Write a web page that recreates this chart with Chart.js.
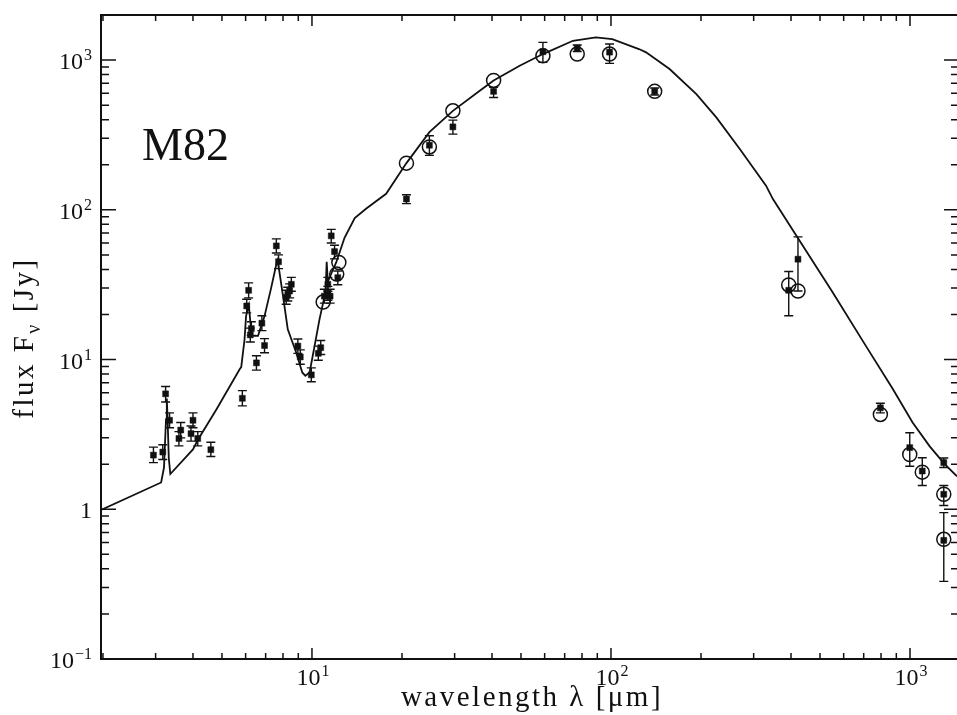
<!DOCTYPE html>
<html>
<head>
<meta charset="utf-8">
<script src="https://cdn.jsdelivr.net/npm/chart.js@4.4.1/dist/chart.umd.min.js"></script>
<style>
  html, body { margin: 0; padding: 0; background: #ffffff; }
  #c { display: block; }
</style>
</head>
<body>
<canvas id="c" width="957" height="715"></canvas>
<script>
// ---------------- DATA ----------------
// Model SED curve (wavelength in micron, flux in Jy)
const modelLambda = [1.97, 3.13, 3.2, 3.25, 3.27, 3.29, 3.32, 3.36, 4.0, 4.15, 4.79, 5.73, 5.8, 5.95, 6.02, 6.15, 6.22, 6.3, 6.6, 6.94, 7.3, 7.6, 7.68, 8.0, 8.3, 8.86, 9.28, 9.5, 9.82, 10.2, 10.6, 10.9, 11.1, 11.2, 11.3, 11.5, 12.05, 12.85, 13.9, 15.2, 17.7, 20.7, 24.7, 29.6, 36.4, 40.5, 49.5, 59.2, 74.6, 89, 101, 124, 131, 157, 193, 225, 270, 330, 348, 417, 551, 716, 874, 1020, 1164, 1306, 1436];
const modelFlux   = [0.99, 1.51, 1.9, 4.0, 5.5, 4.0, 2.2, 1.72, 2.51, 2.9, 4.64, 8.6, 8.9, 13.6, 19.5, 23, 18, 14.4, 14.4, 19.5, 30, 43.3, 46, 26.6, 15.9, 11.1, 8.2, 7.8, 8.2, 12.3, 18.6, 24, 28, 45, 33, 36, 44.5, 65, 88, 102, 128, 205, 330, 458, 624, 731, 916, 1097, 1346, 1418, 1381, 1185, 1126, 871, 593, 414, 254, 145, 118, 67, 28.1, 12.1, 6.41, 3.8, 2.63, 2.0, 1.66];

// Measured fluxes (filled squares) with error bar limits
const filledLambda = [2.95, 3.17, 3.24, 3.34, 3.59, 3.64, 3.94, 4.0, 4.15, 4.59, 5.85, 6.05, 6.14, 6.27, 6.22, 6.52, 6.8, 6.94, 7.6, 7.73, 8.2, 8.3, 8.42, 8.53, 8.97, 9.14, 9.95, 10.5, 10.7, 11.0, 11.3, 11.5, 11.6, 11.9, 12.2, 11.3, 20.7, 24.7, 29.6, 40.5, 59.2, 77.1, 98.9, 140, 393, 422, 796, 998, 1099, 1297, 1297, 1297];
const filledFlux   = [2.3, 2.41, 5.9, 3.93, 2.97, 3.38, 3.2, 3.93, 2.97, 2.5, 5.51, 22.8, 29, 16.1, 14.6, 9.5, 17.5, 12.4, 57.4, 45, 26, 27.3, 28.7, 31.8, 12.3, 10.4, 7.9, 11.0, 12.0, 26.5, 27.7, 26.5, 67, 52.6, 35.2, 31.8, 118, 270, 358, 618, 1137, 1200, 1130, 618, 29, 46.8, 4.76, 2.58, 1.8, 2.05, 1.26, 0.62];
const filledLow    = [2.05, 2.15, 5.2, 3.5, 2.65, 3.0, 2.85, 3.5, 2.65, 2.25, 4.9, 20.5, 25.8, 14.5, 13.1, 8.5, 15.6, 11.1, 51.5, 40.5, 23.4, 24.6, 25.8, 28.6, 11.0, 9.3, 7.1, 9.9, 10.8, 23.8, 24.9, 23.8, 60, 47, 31.6, 28.6, 110, 231, 320, 563, 965, 1140, 950, 585, 19.6, 28.7, 4.4, 1.94, 1.44, 1.9, 1.06, 0.33];
const filledHigh   = [2.6, 2.7, 6.6, 4.4, 3.3, 3.8, 3.6, 4.4, 3.3, 2.8, 6.2, 25.3, 32.5, 17.9, 16.2, 10.6, 19.6, 13.8, 64, 50, 29, 30.4, 32, 35.4, 13.7, 11.6, 8.8, 12.3, 13.4, 29.5, 30.8, 29.5, 74, 58, 39, 35.4, 126, 312, 397, 657, 1313, 1260, 1279, 651, 38.7, 66, 5.1, 3.24, 2.21, 2.2, 1.44, 0.95];

// Open circles
const openLambda = [10.9, 12.1, 12.3, 20.7, 24.7, 29.6, 40.5, 59.2, 77.1, 98.9, 140, 393, 422, 796, 998, 1099, 1297, 1297];
const openFlux   = [24.2, 37.2, 44.5, 205, 263, 458, 731, 1069, 1097, 1097, 618, 31.5, 28.7, 4.3, 2.32, 1.77, 1.26, 0.63];

// Tick labels (decades): base and exponent
const xTickValues = [10, 100, 1000];
const xTickBase   = ['10', '10', '10'];
const xTickExp    = ['1', '2', '3'];
const yTickValues = [0.1, 1, 10, 100, 1000];
const yTickBase   = ['10', '1', '10', '10', '10'];
const yTickExp    = ['\u22121', '', '1', '2', '3'];

const xTitle = 'wavelength \u03BB [\u03BCm]';
const yTitleMain = 'flux F';
const yTitleSub = '\u03BD';
const yTitleEnd = ' [Jy]';
const objectLabel = 'M82';

// ---------------- BUILD ----------------
const toXY = (xs, ys) => xs.map((x, i) => ({ x: x, y: ys[i] }));
const SERIF = '"Liberation Serif", "DejaVu Serif", serif';
const INK = '#111111';

function drawPowerLabel(ctx, base, exp, x, y, align) {
  ctx.font = '24px ' + SERIF;
  const wb = ctx.measureText(base).width;
  ctx.font = '16px ' + SERIF;
  const we = exp ? ctx.measureText(exp).width + 1 : 0;
  const total = wb + we;
  let sx = align === 'center' ? x - total / 2 : x - total;
  ctx.textAlign = 'left';
  ctx.font = '24px ' + SERIF;
  ctx.fillText(base, sx, y);
  if (exp) {
    ctx.font = '16px ' + SERIF;
    ctx.fillText(exp, sx + wb + 1, y - 9);
  }
}

const framePlugin = {
  id: 'framePlugin',
  afterDatasetsDraw(chart) {
    const ctx = chart.ctx;
    const xs = chart.scales.x, ys = chart.scales.y;
    const a = chart.chartArea;
    // error bars for filled points
    ctx.save();
    ctx.beginPath();
    ctx.rect(a.left, a.top, a.right - a.left, a.bottom - a.top);
    ctx.clip();
    ctx.strokeStyle = INK;
    ctx.lineWidth = 1.4;
    for (let i = 0; i < filledLambda.length; i++) {
      const px = xs.getPixelForValue(filledLambda[i]);
      const yl = ys.getPixelForValue(filledLow[i]);
      const yh = ys.getPixelForValue(filledHigh[i]);
      ctx.beginPath();
      ctx.moveTo(px, yl); ctx.lineTo(px, yh);
      ctx.moveTo(px - 4.5, yl); ctx.lineTo(px + 4.5, yl);
      ctx.moveTo(px - 4.5, yh); ctx.lineTo(px + 4.5, yh);
      ctx.stroke();
    }
    ctx.restore();

    // frame (left, top, bottom; right edge lies at the canvas border) and inward ticks
    ctx.save();
    ctx.strokeStyle = INK;
    ctx.lineWidth = 2;
    ctx.beginPath();
    ctx.moveTo(a.right, a.top); ctx.lineTo(a.left, a.top);
    ctx.lineTo(a.left, a.bottom); ctx.lineTo(a.right, a.bottom);
    ctx.stroke();
    ctx.lineWidth = 1.5;
    ctx.beginPath();
    for (let d = 1; d <= 1000; d *= 10) {
      for (let m = 1; m <= 9; m++) {
        const v = m * d;
        if (v < xs.min || v > xs.max) continue;
        const p = xs.getPixelForValue(v);
        const len = m === 1 ? 11 : 6;
        ctx.moveTo(p, a.bottom); ctx.lineTo(p, a.bottom - len);
        ctx.moveTo(p, a.top); ctx.lineTo(p, a.top + len);
      }
    }
    for (let d = 0.1; d <= 1000.5; d *= 10) {
      for (let m = 1; m <= 9; m++) {
        const v = m * d;
        if (v < ys.min * 0.999 || v > ys.max) continue;
        const p = ys.getPixelForValue(v);
        const len = m === 1 ? 15 : 8;
        ctx.moveTo(a.left, p); ctx.lineTo(a.left + len, p);
        ctx.moveTo(a.right + 2, p); ctx.lineTo(a.right + 2 - len, p);
      }
    }
    ctx.stroke();

    // tick labels
    ctx.fillStyle = INK;
    ctx.textBaseline = 'alphabetic';
    for (let i = 0; i < xTickValues.length; i++) {
      const p = xs.getPixelForValue(xTickValues[i]);
      drawPowerLabel(ctx, xTickBase[i], xTickExp[i], p + 1, a.bottom + 26, 'center');
    }
    for (let i = 0; i < yTickValues.length; i++) {
      const p = ys.getPixelForValue(yTickValues[i]);
      drawPowerLabel(ctx, yTickBase[i], yTickExp[i], 92, p + 9, 'right');
    }

    // object label
    ctx.font = '46px ' + SERIF;
    ctx.textAlign = 'left';
    ctx.fillText(objectLabel, 142, 160);

    // x title
    ctx.font = '29px ' + SERIF;
    ctx.letterSpacing = '2.5px';
    ctx.textAlign = 'center';
    ctx.fillText(xTitle, 532, 706);

    // y title (rotated) with subscript
    ctx.translate(33, 338);
    ctx.rotate(-Math.PI / 2);
    ctx.textAlign = 'left';
    ctx.font = '29px ' + SERIF;
    const w1 = ctx.measureText(yTitleMain).width;
    const w3 = ctx.measureText(yTitleEnd).width;
    ctx.font = '20px ' + SERIF;
    const w2 = ctx.measureText(yTitleSub).width;
    const total = w1 + w2 + w3;
    let sx = -total / 2;
    ctx.font = '29px ' + SERIF;
    ctx.fillText(yTitleMain, sx, 0);
    sx += w1;
    ctx.font = '20px ' + SERIF;
    ctx.fillText(yTitleSub, sx, 7);
    sx += w2;
    ctx.font = '29px ' + SERIF;
    ctx.fillText(yTitleEnd, sx, 0);
    ctx.restore();
  }
};

const zeroPad = (s) => { s.paddingLeft = 0; s.paddingRight = 0; s.paddingTop = 0; s.paddingBottom = 0; };

new Chart(document.getElementById('c'), {
  type: 'line',
  data: {
    datasets: [
      {
        label: 'model',
        data: toXY(modelLambda, modelFlux),
        borderColor: INK,
        borderWidth: 1.8,
        pointRadius: 0,
        tension: 0,
        fill: false,
        order: 3
      },
      {
        label: 'open',
        data: toXY(openLambda, openFlux),
        showLine: false,
        pointStyle: 'circle',
        pointRadius: 7,
        pointBorderWidth: 1.5,
        pointBorderColor: INK,
        pointBackgroundColor: 'rgba(0,0,0,0)',
        order: 2
      },
      {
        label: 'filled',
        data: toXY(filledLambda, filledFlux),
        showLine: false,
        pointStyle: 'rect',
        pointRadius: 4.2,
        pointBorderWidth: 0.5,
        pointBorderColor: INK,
        pointBackgroundColor: INK,
        order: 1
      }
    ]
  },
  options: {
    responsive: false,
    animation: false,
    devicePixelRatio: 1,
    layout: { autoPadding: false, padding: { top: 15, right: 0, left: 0, bottom: 0 } },
    plugins: { legend: { display: false }, tooltip: { enabled: false }, title: { display: false } },
    scales: {
      x: {
        type: 'logarithmic',
        position: 'bottom',
        min: 1.97,
        max: 1436,
        grid: { display: false, drawTicks: false },
        border: { display: false },
        ticks: { display: false },
        afterFit: (s) => { s.height = 56; zeroPad(s); }
      },
      y: {
        type: 'logarithmic',
        position: 'left',
        min: 0.1,
        max: 2000,
        grid: { display: false, drawTicks: false },
        border: { display: false },
        ticks: { display: false },
        afterFit: (s) => { s.width = 101; zeroPad(s); }
      }
    }
  },
  plugins: [framePlugin]
});
</script>
</body>
</html>
